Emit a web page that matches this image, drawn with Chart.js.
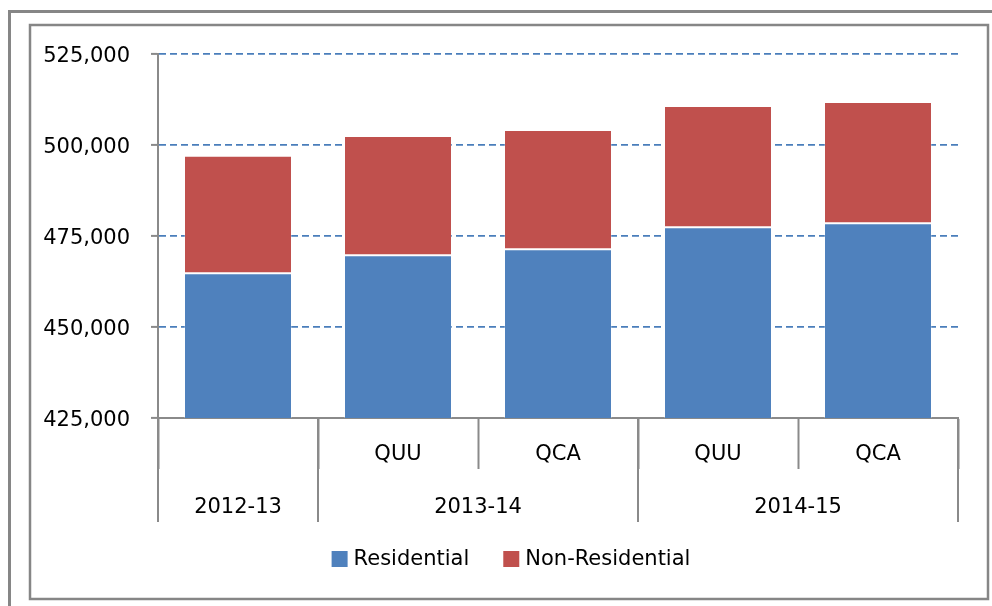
<!DOCTYPE html>
<html>
<head>
<meta charset="utf-8">
<script src="https://cdn.jsdelivr.net/npm/chart.js@4.4.1/dist/chart.umd.min.js"></script>
<style>
  html, body { margin: 0; padding: 0; background: #fff; }
  canvas { display: block; }
</style>
</head>
<body>
<canvas id="chart" width="992" height="606"></canvas>
<script>
const categories = ["", "QUU", "QCA", "QUU", "QCA"];
const groupLabels = ["2012-13", "2013-14", "2014-15"];
const groupSpans = [1, 2, 2];
const residential = [464750, 469700, 471350, 477400, 478500];
const nonResidential = [32300, 32800, 32800, 33300, 33300];
const yTicks = [425000, 450000, 475000, 500000, 525000];

const FONT = "DejaVu Sans";
const AXIS_GREY = "#8a8a8a";
const GRID_BLUE = "#4a7ebb";

// frames round the picture
const framePlugin = {
  id: "frames",
  beforeDraw(chart) {
    const c = chart.ctx;
    c.save();
    c.strokeStyle = "#868686";
    c.lineWidth = 3;
    c.strokeRect(9.5, 11.5, 1100, 700);
    c.lineWidth = 2.5;
    c.strokeRect(30, 25, 958, 574);
    c.restore();
  }
};

// second level of the x axis: group separators and year labels
const groupAxisPlugin = {
  id: "groupAxis",
  afterDraw(chart) {
    const x = chart.scales.x;
    const c = chart.ctx;
    const half = (x.getPixelForValue(1) - x.getPixelForValue(0)) / 2;
    const top = x.top;
    c.save();
    c.strokeStyle = AXIS_GREY;
    c.lineWidth = 2;
    c.fillStyle = "#000";
    c.font = "21px '" + FONT + "'";
    c.textAlign = "center";
    c.textBaseline = "middle";
    let start = 0;
    const edges = [x.getPixelForValue(0) - half];
    groupLabels.forEach((lab, i) => {
      const end = start + groupSpans[i] - 1;
      const left = x.getPixelForValue(start) - half;
      const right = x.getPixelForValue(end) + half;
      edges.push(right);
      c.fillText(lab, (left + right) / 2, top + 90);
      start = end + 1;
    });
    edges.forEach(px => {
      c.beginPath();
      c.moveTo(px, top);
      c.lineTo(px, top + 104);
      c.stroke();
    });
    c.restore();
  }
};

// legend drawn under the axis
const legendPlugin = {
  id: "customLegend",
  afterDraw(chart) {
    const c = chart.ctx;
    const sets = chart.data.datasets;
    c.save();
    c.font = "21px '" + FONT + "'";
    c.textBaseline = "middle";
    c.textAlign = "left";
    const box = 16, gap = 6, spacing = 34;
    const widths = sets.map(d => c.measureText(d.label).width);
    let total = widths.reduce((a, b) => a + b, 0) + sets.length * (box + gap) + spacing * (sets.length - 1);
    let px = 511 - total / 2;
    const cy = 559;
    sets.forEach((d, i) => {
      c.fillStyle = d.backgroundColor;
      c.fillRect(px, cy - box / 2, box, box);
      c.fillStyle = "#000";
      c.fillText(d.label, px + box + gap, cy + 1);
      px += box + gap + widths[i] + spacing;
    });
    c.restore();
  }
};

new Chart(document.getElementById("chart"), {
  type: "bar",
  data: {
    labels: categories,
    datasets: [
      { label: "Residential", data: residential, backgroundColor: "#4f81bd",
        borderColor: "rgba(255,255,255,0.25)", borderWidth: 1, borderSkipped: false },
      { label: "Non-Residential", data: nonResidential, backgroundColor: "#c0504d",
        borderColor: "rgba(255,255,255,0.25)", borderWidth: 1, borderSkipped: false }
    ]
  },
  options: {
    responsive: false,
    animation: false,
    devicePixelRatio: 1,
    layout: { padding: { left: 0, right: 34, top: 54, bottom: 88 } },
    datasets: { bar: { barPercentage: 0.675, categoryPercentage: 1 } },
    plugins: { legend: { display: false }, tooltip: { enabled: false } },
    scales: {
      x: {
        stacked: true,
        offset: true,
        afterFit: s => { s.height = 100; },
        grid: {
          offset: true, drawOnChartArea: false, drawTicks: true,
          tickLength: 51, tickColor: AXIS_GREY, tickWidth: 2
        },
        border: { color: AXIS_GREY, width: 2 },
        ticks: { color: "#000", padding: -27, font: { family: FONT, size: 21 }, maxRotation: 0, autoSkip: false }
      },
      y: {
        stacked: true,
        min: 425000,
        max: 525000,
        afterFit: s => { s.width = 158; },
        afterBuildTicks: s => { s.ticks = yTicks.map(v => ({ value: v })); },
        grid: {
          color: ctx => ctx.tick && ctx.tick.value === 425000 ? "transparent" : GRID_BLUE,
          lineWidth: 1.8,
          tickColor: AXIS_GREY, tickWidth: 2, tickLength: 7, tickBorderDash: []
        },
        border: { color: AXIS_GREY, width: 2, dash: [7, 4] },
        ticks: {
          color: "#000", padding: 21, labelOffset: 3, font: { family: FONT, size: 21 },
          callback: v => v.toLocaleString("en-US")
        }
      }
    }
  },
  plugins: [framePlugin, groupAxisPlugin, legendPlugin]
});
</script>
</body>
</html>
